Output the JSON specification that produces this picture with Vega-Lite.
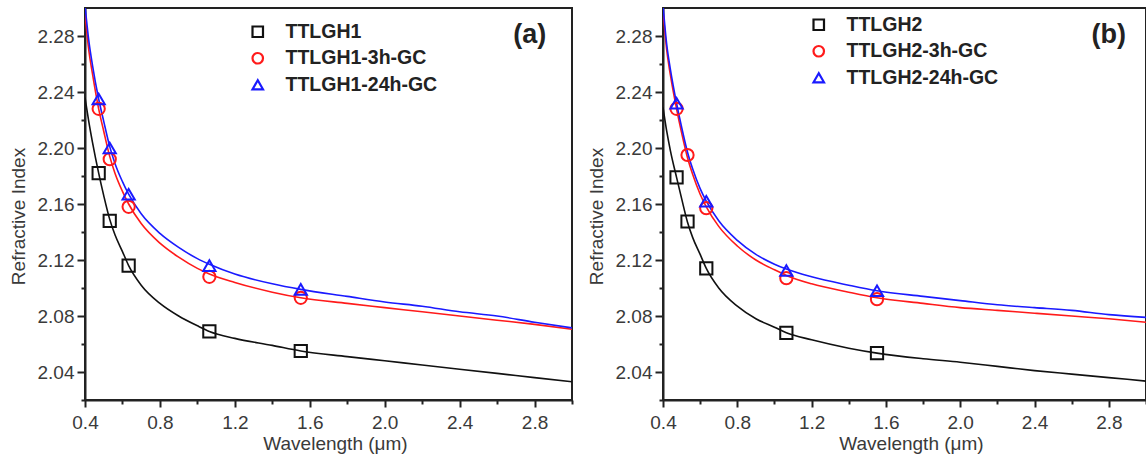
{
  "$schema": "https://vega.github.io/schema/vega-lite/v6.json",
  "padding": {"left": 8, "top": 7, "right": 0, "bottom": 0},
  "background": "white",
  "spacing": 12,
  "config": {
    "view": {"stroke": "#222", "strokeWidth": 2},
    "axis": {
      "labelFont": "Liberation Sans", "labelFontSize": 19, "labelColor": "#3a3a3a",
      "titleFont": "Liberation Sans", "titleFontSize": 19, "titleFontWeight": "normal", "titleColor": "#3a3a3a",
      "domainColor": "#222", "domainWidth": 2, "tickColor": "#222", "tickWidth": 2,
      "grid": false, "labelFlush": false, "labelOverlap": false
    },
    "legend": {
      "labelFont": "Liberation Sans", "labelFontSize": 19.5, "labelFontWeight": "bold", "labelColor": "#222",
      "symbolSize": 110, "symbolStrokeWidth": 2.2,
      "rowPadding": 5.5, "labelOffset": 18, "padding": 0
    }
  },
  "datasets": {
    "a_fit": [
      {"series": "TTLGH1", "wavelength": 0.4, "n": 2.236},
      {"series": "TTLGH1", "wavelength": 0.42, "n": 2.219},
      {"series": "TTLGH1", "wavelength": 0.44, "n": 2.204},
      {"series": "TTLGH1", "wavelength": 0.473, "n": 2.182},
      {"series": "TTLGH1", "wavelength": 0.5, "n": 2.166},
      {"series": "TTLGH1", "wavelength": 0.532, "n": 2.149},
      {"series": "TTLGH1", "wavelength": 0.56, "n": 2.138},
      {"series": "TTLGH1", "wavelength": 0.6, "n": 2.126},
      {"series": "TTLGH1", "wavelength": 0.633, "n": 2.116},
      {"series": "TTLGH1", "wavelength": 0.7, "n": 2.102},
      {"series": "TTLGH1", "wavelength": 0.8, "n": 2.089},
      {"series": "TTLGH1", "wavelength": 0.9, "n": 2.08},
      {"series": "TTLGH1", "wavelength": 1.0, "n": 2.073},
      {"series": "TTLGH1", "wavelength": 1.064, "n": 2.069},
      {"series": "TTLGH1", "wavelength": 1.2, "n": 2.064},
      {"series": "TTLGH1", "wavelength": 1.4, "n": 2.059},
      {"series": "TTLGH1", "wavelength": 1.552, "n": 2.055},
      {"series": "TTLGH1", "wavelength": 1.8, "n": 2.051},
      {"series": "TTLGH1", "wavelength": 2.0, "n": 2.048},
      {"series": "TTLGH1", "wavelength": 2.2, "n": 2.045},
      {"series": "TTLGH1", "wavelength": 2.4, "n": 2.042},
      {"series": "TTLGH1", "wavelength": 2.6, "n": 2.039},
      {"series": "TTLGH1", "wavelength": 2.8, "n": 2.036},
      {"series": "TTLGH1", "wavelength": 3.0, "n": 2.033},
      {"series": "TTLGH1-3h-GC", "wavelength": 0.4, "n": 2.296},
      {"series": "TTLGH1-3h-GC", "wavelength": 0.42, "n": 2.27},
      {"series": "TTLGH1-3h-GC", "wavelength": 0.44, "n": 2.253},
      {"series": "TTLGH1-3h-GC", "wavelength": 0.473, "n": 2.228},
      {"series": "TTLGH1-3h-GC", "wavelength": 0.5, "n": 2.212},
      {"series": "TTLGH1-3h-GC", "wavelength": 0.532, "n": 2.194},
      {"series": "TTLGH1-3h-GC", "wavelength": 0.56, "n": 2.182},
      {"series": "TTLGH1-3h-GC", "wavelength": 0.6, "n": 2.169},
      {"series": "TTLGH1-3h-GC", "wavelength": 0.633, "n": 2.16},
      {"series": "TTLGH1-3h-GC", "wavelength": 0.7, "n": 2.146},
      {"series": "TTLGH1-3h-GC", "wavelength": 0.8, "n": 2.132},
      {"series": "TTLGH1-3h-GC", "wavelength": 0.9, "n": 2.122},
      {"series": "TTLGH1-3h-GC", "wavelength": 1.0, "n": 2.114},
      {"series": "TTLGH1-3h-GC", "wavelength": 1.064, "n": 2.11},
      {"series": "TTLGH1-3h-GC", "wavelength": 1.2, "n": 2.104},
      {"series": "TTLGH1-3h-GC", "wavelength": 1.4, "n": 2.097},
      {"series": "TTLGH1-3h-GC", "wavelength": 1.552, "n": 2.093},
      {"series": "TTLGH1-3h-GC", "wavelength": 1.8, "n": 2.089},
      {"series": "TTLGH1-3h-GC", "wavelength": 2.0, "n": 2.086},
      {"series": "TTLGH1-3h-GC", "wavelength": 2.2, "n": 2.083},
      {"series": "TTLGH1-3h-GC", "wavelength": 2.4, "n": 2.08},
      {"series": "TTLGH1-3h-GC", "wavelength": 2.6, "n": 2.077},
      {"series": "TTLGH1-3h-GC", "wavelength": 2.8, "n": 2.074},
      {"series": "TTLGH1-3h-GC", "wavelength": 3.0, "n": 2.0705},
      {"series": "TTLGH1-24h-GC", "wavelength": 0.4, "n": 2.302},
      {"series": "TTLGH1-24h-GC", "wavelength": 0.42, "n": 2.277},
      {"series": "TTLGH1-24h-GC", "wavelength": 0.44, "n": 2.259},
      {"series": "TTLGH1-24h-GC", "wavelength": 0.473, "n": 2.235},
      {"series": "TTLGH1-24h-GC", "wavelength": 0.5, "n": 2.219},
      {"series": "TTLGH1-24h-GC", "wavelength": 0.532, "n": 2.201},
      {"series": "TTLGH1-24h-GC", "wavelength": 0.56, "n": 2.189},
      {"series": "TTLGH1-24h-GC", "wavelength": 0.6, "n": 2.176},
      {"series": "TTLGH1-24h-GC", "wavelength": 0.633, "n": 2.167},
      {"series": "TTLGH1-24h-GC", "wavelength": 0.7, "n": 2.153},
      {"series": "TTLGH1-24h-GC", "wavelength": 0.8, "n": 2.139},
      {"series": "TTLGH1-24h-GC", "wavelength": 0.9, "n": 2.129},
      {"series": "TTLGH1-24h-GC", "wavelength": 1.0, "n": 2.121},
      {"series": "TTLGH1-24h-GC", "wavelength": 1.064, "n": 2.117},
      {"series": "TTLGH1-24h-GC", "wavelength": 1.2, "n": 2.11},
      {"series": "TTLGH1-24h-GC", "wavelength": 1.4, "n": 2.103},
      {"series": "TTLGH1-24h-GC", "wavelength": 1.552, "n": 2.099},
      {"series": "TTLGH1-24h-GC", "wavelength": 1.8, "n": 2.094},
      {"series": "TTLGH1-24h-GC", "wavelength": 2.0, "n": 2.09},
      {"series": "TTLGH1-24h-GC", "wavelength": 2.2, "n": 2.087},
      {"series": "TTLGH1-24h-GC", "wavelength": 2.4, "n": 2.083},
      {"series": "TTLGH1-24h-GC", "wavelength": 2.6, "n": 2.08},
      {"series": "TTLGH1-24h-GC", "wavelength": 2.8, "n": 2.0755},
      {"series": "TTLGH1-24h-GC", "wavelength": 3.0, "n": 2.0715}
    ],
    "a_pts": [
      {"series": "TTLGH1", "wavelength": 0.473, "n": 2.182},
      {"series": "TTLGH1", "wavelength": 0.532, "n": 2.148},
      {"series": "TTLGH1", "wavelength": 0.633, "n": 2.116},
      {"series": "TTLGH1", "wavelength": 1.064, "n": 2.069},
      {"series": "TTLGH1", "wavelength": 1.552, "n": 2.055},
      {"series": "TTLGH1-3h-GC", "wavelength": 0.473, "n": 2.228},
      {"series": "TTLGH1-3h-GC", "wavelength": 0.532, "n": 2.192},
      {"series": "TTLGH1-3h-GC", "wavelength": 0.633, "n": 2.158},
      {"series": "TTLGH1-3h-GC", "wavelength": 1.064, "n": 2.108},
      {"series": "TTLGH1-3h-GC", "wavelength": 1.552, "n": 2.093},
      {"series": "TTLGH1-24h-GC", "wavelength": 0.473, "n": 2.235},
      {"series": "TTLGH1-24h-GC", "wavelength": 0.532, "n": 2.2},
      {"series": "TTLGH1-24h-GC", "wavelength": 0.633, "n": 2.167},
      {"series": "TTLGH1-24h-GC", "wavelength": 1.064, "n": 2.116},
      {"series": "TTLGH1-24h-GC", "wavelength": 1.552, "n": 2.099}
    ],
    "b_fit": [
      {"series": "TTLGH2", "wavelength": 0.4, "n": 2.229},
      {"series": "TTLGH2", "wavelength": 0.42, "n": 2.212},
      {"series": "TTLGH2", "wavelength": 0.44, "n": 2.198},
      {"series": "TTLGH2", "wavelength": 0.473, "n": 2.179},
      {"series": "TTLGH2", "wavelength": 0.5, "n": 2.164},
      {"series": "TTLGH2", "wavelength": 0.532, "n": 2.147},
      {"series": "TTLGH2", "wavelength": 0.56, "n": 2.136},
      {"series": "TTLGH2", "wavelength": 0.6, "n": 2.124},
      {"series": "TTLGH2", "wavelength": 0.633, "n": 2.114},
      {"series": "TTLGH2", "wavelength": 0.7, "n": 2.1},
      {"series": "TTLGH2", "wavelength": 0.8, "n": 2.087},
      {"series": "TTLGH2", "wavelength": 0.9, "n": 2.078},
      {"series": "TTLGH2", "wavelength": 1.0, "n": 2.072},
      {"series": "TTLGH2", "wavelength": 1.064, "n": 2.068},
      {"series": "TTLGH2", "wavelength": 1.2, "n": 2.063},
      {"series": "TTLGH2", "wavelength": 1.4, "n": 2.057},
      {"series": "TTLGH2", "wavelength": 1.552, "n": 2.0535},
      {"series": "TTLGH2", "wavelength": 1.8, "n": 2.0495},
      {"series": "TTLGH2", "wavelength": 2.0, "n": 2.047},
      {"series": "TTLGH2", "wavelength": 2.2, "n": 2.044},
      {"series": "TTLGH2", "wavelength": 2.4, "n": 2.041},
      {"series": "TTLGH2", "wavelength": 2.6, "n": 2.0385},
      {"series": "TTLGH2", "wavelength": 2.8, "n": 2.036},
      {"series": "TTLGH2", "wavelength": 3.0, "n": 2.0335},
      {"series": "TTLGH2-3h-GC", "wavelength": 0.4, "n": 2.298},
      {"series": "TTLGH2-3h-GC", "wavelength": 0.42, "n": 2.27},
      {"series": "TTLGH2-3h-GC", "wavelength": 0.44, "n": 2.252},
      {"series": "TTLGH2-3h-GC", "wavelength": 0.473, "n": 2.228},
      {"series": "TTLGH2-3h-GC", "wavelength": 0.5, "n": 2.211},
      {"series": "TTLGH2-3h-GC", "wavelength": 0.532, "n": 2.193},
      {"series": "TTLGH2-3h-GC", "wavelength": 0.56, "n": 2.181},
      {"series": "TTLGH2-3h-GC", "wavelength": 0.6, "n": 2.167},
      {"series": "TTLGH2-3h-GC", "wavelength": 0.633, "n": 2.158},
      {"series": "TTLGH2-3h-GC", "wavelength": 0.7, "n": 2.144},
      {"series": "TTLGH2-3h-GC", "wavelength": 0.8, "n": 2.13},
      {"series": "TTLGH2-3h-GC", "wavelength": 0.9, "n": 2.12},
      {"series": "TTLGH2-3h-GC", "wavelength": 1.0, "n": 2.113},
      {"series": "TTLGH2-3h-GC", "wavelength": 1.064, "n": 2.109},
      {"series": "TTLGH2-3h-GC", "wavelength": 1.2, "n": 2.103},
      {"series": "TTLGH2-3h-GC", "wavelength": 1.4, "n": 2.097},
      {"series": "TTLGH2-3h-GC", "wavelength": 1.552, "n": 2.093},
      {"series": "TTLGH2-3h-GC", "wavelength": 1.8, "n": 2.089},
      {"series": "TTLGH2-3h-GC", "wavelength": 2.0, "n": 2.086},
      {"series": "TTLGH2-3h-GC", "wavelength": 2.2, "n": 2.084},
      {"series": "TTLGH2-3h-GC", "wavelength": 2.4, "n": 2.082},
      {"series": "TTLGH2-3h-GC", "wavelength": 2.6, "n": 2.08},
      {"series": "TTLGH2-3h-GC", "wavelength": 2.8, "n": 2.078},
      {"series": "TTLGH2-3h-GC", "wavelength": 3.0, "n": 2.0755},
      {"series": "TTLGH2-24h-GC", "wavelength": 0.4, "n": 2.302},
      {"series": "TTLGH2-24h-GC", "wavelength": 0.42, "n": 2.274},
      {"series": "TTLGH2-24h-GC", "wavelength": 0.44, "n": 2.256},
      {"series": "TTLGH2-24h-GC", "wavelength": 0.473, "n": 2.232},
      {"series": "TTLGH2-24h-GC", "wavelength": 0.5, "n": 2.215},
      {"series": "TTLGH2-24h-GC", "wavelength": 0.532, "n": 2.197},
      {"series": "TTLGH2-24h-GC", "wavelength": 0.56, "n": 2.185},
      {"series": "TTLGH2-24h-GC", "wavelength": 0.6, "n": 2.171},
      {"series": "TTLGH2-24h-GC", "wavelength": 0.633, "n": 2.162},
      {"series": "TTLGH2-24h-GC", "wavelength": 0.7, "n": 2.148},
      {"series": "TTLGH2-24h-GC", "wavelength": 0.8, "n": 2.134},
      {"series": "TTLGH2-24h-GC", "wavelength": 0.9, "n": 2.124},
      {"series": "TTLGH2-24h-GC", "wavelength": 1.0, "n": 2.117},
      {"series": "TTLGH2-24h-GC", "wavelength": 1.064, "n": 2.1135},
      {"series": "TTLGH2-24h-GC", "wavelength": 1.2, "n": 2.108},
      {"series": "TTLGH2-24h-GC", "wavelength": 1.4, "n": 2.102},
      {"series": "TTLGH2-24h-GC", "wavelength": 1.552, "n": 2.098},
      {"series": "TTLGH2-24h-GC", "wavelength": 1.8, "n": 2.094},
      {"series": "TTLGH2-24h-GC", "wavelength": 2.0, "n": 2.091},
      {"series": "TTLGH2-24h-GC", "wavelength": 2.2, "n": 2.088},
      {"series": "TTLGH2-24h-GC", "wavelength": 2.4, "n": 2.086},
      {"series": "TTLGH2-24h-GC", "wavelength": 2.6, "n": 2.084},
      {"series": "TTLGH2-24h-GC", "wavelength": 2.8, "n": 2.081},
      {"series": "TTLGH2-24h-GC", "wavelength": 3.0, "n": 2.079}
    ],
    "b_pts": [
      {"series": "TTLGH2", "wavelength": 0.473, "n": 2.179},
      {"series": "TTLGH2", "wavelength": 0.532, "n": 2.1475},
      {"series": "TTLGH2", "wavelength": 0.633, "n": 2.114},
      {"series": "TTLGH2", "wavelength": 1.064, "n": 2.068},
      {"series": "TTLGH2", "wavelength": 1.552, "n": 2.0535},
      {"series": "TTLGH2-3h-GC", "wavelength": 0.473, "n": 2.228},
      {"series": "TTLGH2-3h-GC", "wavelength": 0.532, "n": 2.195},
      {"series": "TTLGH2-3h-GC", "wavelength": 0.633, "n": 2.157},
      {"series": "TTLGH2-3h-GC", "wavelength": 1.064, "n": 2.107},
      {"series": "TTLGH2-3h-GC", "wavelength": 1.552, "n": 2.092},
      {"series": "TTLGH2-24h-GC", "wavelength": 0.473, "n": 2.232},
      {"series": "TTLGH2-24h-GC", "wavelength": 0.633, "n": 2.162},
      {"series": "TTLGH2-24h-GC", "wavelength": 1.064, "n": 2.1125},
      {"series": "TTLGH2-24h-GC", "wavelength": 1.552, "n": 2.098}
    ]
  },
  "resolve": {"scale": {"color": "independent", "shape": "independent", "stroke": "independent"}, "legend": {"color": "independent", "shape": "independent", "stroke": "independent"}},
  "hconcat": [
    {
      "width": 487, "height": 392,
      "encoding": {
        "x": {"field": "wavelength", "type": "quantitative", "title": "Wavelength (μm)",
          "scale": {"domain": [0.4, 3.0], "nice": false, "zero": false},
          "axis": {"values": [0.4, 0.6, 0.8, 1.0, 1.2, 1.4, 1.6, 1.8, 2.0, 2.2, 2.4, 2.6, 2.8, 3.0],
            "labelExpr": "round(datum.value*10) % 4 == 0 ? format(datum.value, '.1f') : ''",
            "tickSize": {"condition": {"test": "round(datum.value*10) % 4 == 0", "value": 7}, "value": 4},
            "labelPadding": 6, "titlePadding": 2, "titleX": 250}},
        "y": {"field": "n", "type": "quantitative", "title": "Refractive Index",
          "scale": {"domain": [2.02, 2.3], "nice": false, "zero": false},
          "axis": {"values": [2.02, 2.04, 2.06, 2.08, 2.1, 2.12, 2.14, 2.16, 2.18, 2.2, 2.22, 2.24, 2.26, 2.28],
            "labelExpr": "round(datum.value*100) % 4 == 0 ? format(datum.value, '.2f') : ''",
            "tickSize": {"condition": {"test": "round(datum.value*100) % 4 == 0", "value": 8}, "value": 4},
            "labelPadding": 3, "titlePadding": 9, "titleY": 208}}
      },
      "layer": [
        {
          "data": {"name": "a_fit"},
          "mark": {"type": "line", "strokeWidth": 1.6, "clip": true, "interpolate": "monotone"},
          "encoding": {
            "stroke": {"field": "series", "type": "nominal", "legend": null,
              "scale": {"domain": ["TTLGH1-24h-GC", "TTLGH1-3h-GC", "TTLGH1"], "range": ["#1a1aff", "#ff1a1a", "#111111"]}}
          }
        },
        {
          "data": {"name": "a_pts"},
          "mark": {"type": "point", "filled": false, "strokeWidth": 2, "size": 150, "opacity": 1},
          "encoding": {
            "color": {"field": "series", "type": "nominal",
              "scale": {"domain": ["TTLGH1", "TTLGH1-3h-GC", "TTLGH1-24h-GC"], "range": ["#111111", "#ff1a1a", "#1a1aff"]},
              "legend": {"title": null, "orient": "none", "direction": "vertical", "legendX": 163, "legendY": 14}},
            "shape": {"field": "series", "type": "nominal",
              "scale": {"domain": ["TTLGH1", "TTLGH1-3h-GC", "TTLGH1-24h-GC"], "range": ["square", "circle", "triangle-up"]},
              "legend": {"title": null, "orient": "none", "direction": "vertical", "legendX": 163, "legendY": 14}}
          }
        },
        {
          "data": {"values": [{"label": "(a)", "wavelength": 2.775, "n": 2.281}]},
          "mark": {"type": "text", "font": "Liberation Sans", "fontSize": 27, "fontWeight": "bold", "color": "#222", "baseline": "middle"},
          "encoding": {"text": {"field": "label"}}
        }
      ]
    },
    {
      "width": 483, "height": 392,
      "encoding": {
        "x": {"field": "wavelength", "type": "quantitative", "title": "Wavelength (μm)",
          "scale": {"domain": [0.4, 3.0], "nice": false, "zero": false},
          "axis": {"values": [0.4, 0.6, 0.8, 1.0, 1.2, 1.4, 1.6, 1.8, 2.0, 2.2, 2.4, 2.6, 2.8, 3.0],
            "labelExpr": "round(datum.value*10) % 4 == 0 ? format(datum.value, '.1f') : ''",
            "tickSize": {"condition": {"test": "round(datum.value*10) % 4 == 0", "value": 7}, "value": 4},
            "labelPadding": 6, "titlePadding": 2, "titleX": 248}},
        "y": {"field": "n", "type": "quantitative", "title": "Refractive Index",
          "scale": {"domain": [2.02, 2.3], "nice": false, "zero": false},
          "axis": {"values": [2.02, 2.04, 2.06, 2.08, 2.1, 2.12, 2.14, 2.16, 2.18, 2.2, 2.22, 2.24, 2.26, 2.28],
            "labelExpr": "round(datum.value*100) % 4 == 0 ? format(datum.value, '.2f') : ''",
            "tickSize": {"condition": {"test": "round(datum.value*100) % 4 == 0", "value": 8}, "value": 4},
            "labelPadding": 3, "titlePadding": 9, "titleY": 208}}
      },
      "layer": [
        {
          "data": {"name": "b_fit"},
          "mark": {"type": "line", "strokeWidth": 1.6, "clip": true, "interpolate": "monotone"},
          "encoding": {
            "stroke": {"field": "series", "type": "nominal", "legend": null,
              "scale": {"domain": ["TTLGH2-24h-GC", "TTLGH2-3h-GC", "TTLGH2"], "range": ["#1a1aff", "#ff1a1a", "#111111"]}}
          }
        },
        {
          "data": {"name": "b_pts"},
          "mark": {"type": "point", "filled": false, "strokeWidth": 2, "size": 150, "opacity": 1},
          "encoding": {
            "color": {"field": "series", "type": "nominal",
              "scale": {"domain": ["TTLGH2", "TTLGH2-3h-GC", "TTLGH2-24h-GC"], "range": ["#111111", "#ff1a1a", "#1a1aff"]},
              "legend": {"title": null, "orient": "none", "direction": "vertical", "legendX": 146, "legendY": 7}},
            "shape": {"field": "series", "type": "nominal",
              "scale": {"domain": ["TTLGH2", "TTLGH2-3h-GC", "TTLGH2-24h-GC"], "range": ["square", "circle", "triangle-up"]},
              "legend": {"title": null, "orient": "none", "direction": "vertical", "legendX": 146, "legendY": 7}}
          }
        },
        {
          "data": {"values": [{"label": "(b)", "wavelength": 2.8, "n": 2.281}]},
          "mark": {"type": "text", "font": "Liberation Sans", "fontSize": 27, "fontWeight": "bold", "color": "#222", "baseline": "middle"},
          "encoding": {"text": {"field": "label"}}
        }
      ]
    }
  ]
}
